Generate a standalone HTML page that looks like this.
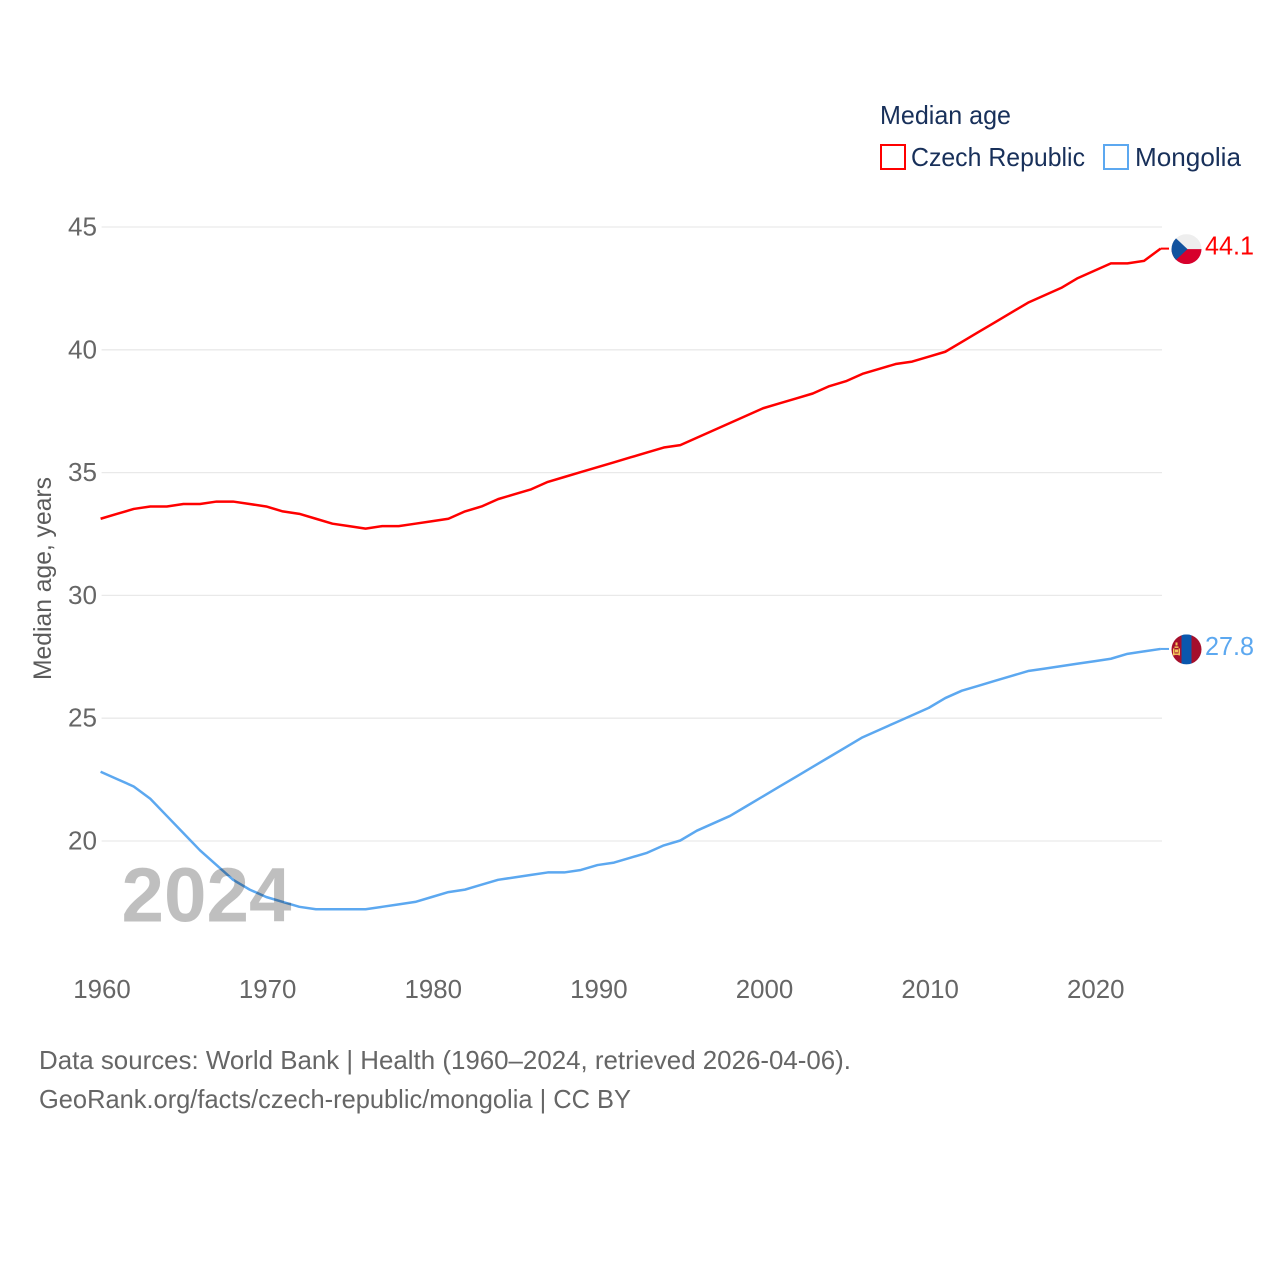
<!DOCTYPE html>
<html lang="en">
<head>
<meta charset="utf-8">
<title>Median age: Czech Republic vs Mongolia</title>
<style>
  html, body { margin: 0; padding: 0; background: #fff; }
  svg { display: block; font-family: "Liberation Sans", sans-serif; }
</style>
</head>
<body>
<svg id="chart" xmlns="http://www.w3.org/2000/svg" width="1280" height="1280" viewBox="0 0 1280 1280">
  <rect width="1280" height="1280" fill="#ffffff"/>

  <g id="grid"></g>
  <g id="yticks"></g>
  <g id="xticks"></g>

  <text transform="translate(51 680) rotate(-90)" font-size="25" fill="#5b5b5b" textLength="203" lengthAdjust="spacingAndGlyphs">Median age, years</text>

  <g id="series"></g>

  <text x="121.5" y="921.5" font-size="77" font-weight="bold" fill="#000000" fill-opacity="0.25" textLength="170" lengthAdjust="spacingAndGlyphs">2024</text>

  <g>
    <text x="880" y="124" font-size="26" fill="#18305a" textLength="131" lengthAdjust="spacingAndGlyphs">Median age</text>
    <rect x="881" y="145" width="24" height="24" fill="none" stroke="#ff0000" stroke-width="2"/>
    <text x="911" y="166" font-size="26" fill="#18305a" textLength="174" lengthAdjust="spacingAndGlyphs">Czech Republic</text>
    <rect x="1104" y="145" width="24" height="24" fill="none" stroke="#5ca8f0" stroke-width="2"/>
    <text x="1135" y="166" font-size="26" fill="#18305a" textLength="106" lengthAdjust="spacingAndGlyphs">Mongolia</text>
  </g>

  <defs>
    <clipPath id="flag-clip-cz"><circle id="clip-cz" r="15"/></clipPath>
    <clipPath id="flag-clip-mn"><circle id="clip-mn" r="15"/></clipPath>
  </defs>

  <g id="flag-cz" clip-path="url(#flag-clip-cz)">
    <rect x="-15" y="-15" width="30" height="15" fill="#eeeeee"/>
    <rect x="-15" y="0" width="30" height="15" fill="#d7002c"/>
    <polygon points="-15,-15 1,0 -15,15" fill="#11529e"/>
  </g>
  <g id="flag-mn" clip-path="url(#flag-clip-mn)">
    <rect x="-15" y="-15" width="10" height="30" fill="#a50f2c"/>
    <rect x="-5" y="-15" width="10" height="30" fill="#0a57ad"/>
    <rect x="5" y="-15" width="10" height="30" fill="#a50f2c"/>
    <g fill="#f2c65a">
      <rect x="-11" y="-7" width="2" height="3"/>
      <rect x="-12" y="-3" width="4" height="1.5"/>
      <rect x="-13.5" y="-1" width="1.5" height="7"/>
      <rect x="-8" y="-1" width="1.5" height="7"/>
      <rect x="-11.5" y="0" width="3" height="3"/>
      <rect x="-12" y="4" width="4" height="1.5"/>
    </g>
  </g>

  <text id="end-cz" font-size="26" fill="#ff0000" textLength="49" lengthAdjust="spacingAndGlyphs"></text>
  <text id="end-mn" font-size="26" fill="#5ca8f0" textLength="49" lengthAdjust="spacingAndGlyphs"></text>

  <g>
    <text x="39" y="1069" font-size="26" fill="#666666" textLength="812" lengthAdjust="spacingAndGlyphs">Data sources: World Bank | Health (1960–2024, retrieved 2026-04-06).</text>
    <text x="39" y="1108" font-size="26" fill="#666666" textLength="592" lengthAdjust="spacingAndGlyphs">GeoRank.org/facts/czech-republic/mongolia | CC BY</text>
  </g>
</svg>

<script>
const years = [1960,1961,1962,1963,1964,1965,1966,1967,1968,1969,1970,1971,1972,1973,1974,1975,1976,1977,1978,1979,1980,1981,1982,1983,1984,1985,1986,1987,1988,1989,1990,1991,1992,1993,1994,1995,1996,1997,1998,1999,2000,2001,2002,2003,2004,2005,2006,2007,2008,2009,2010,2011,2012,2013,2014,2015,2016,2017,2018,2019,2020,2021,2022,2023,2024];
const czechValues = [33.1,33.3,33.5,33.6,33.6,33.7,33.7,33.8,33.8,33.7,33.6,33.4,33.3,33.1,32.9,32.8,32.7,32.8,32.8,32.9,33.0,33.1,33.4,33.6,33.9,34.1,34.3,34.6,34.8,35.0,35.2,35.4,35.6,35.8,36.0,36.1,36.4,36.7,37.0,37.3,37.6,37.8,38.0,38.2,38.5,38.7,39.0,39.2,39.4,39.5,39.7,39.9,40.3,40.7,41.1,41.5,41.9,42.2,42.5,42.9,43.2,43.5,43.5,43.6,44.1];
const mongoliaValues = [22.8,22.5,22.2,21.7,21.0,20.3,19.6,19.0,18.4,18.0,17.7,17.5,17.3,17.2,17.2,17.2,17.2,17.3,17.4,17.5,17.7,17.9,18.0,18.2,18.4,18.5,18.6,18.7,18.7,18.8,19.0,19.1,19.3,19.5,19.8,20.0,20.4,20.7,21.0,21.4,21.8,22.2,22.6,23.0,23.4,23.8,24.2,24.5,24.8,25.1,25.4,25.8,26.1,26.3,26.5,26.7,26.9,27.0,27.1,27.2,27.3,27.4,27.6,27.7,27.8];
const yTickValues = [20,25,30,35,40,45];
const xTickValues = [1960,1970,1980,1990,2000,2010,2020];

const SVG_NS = 'http://www.w3.org/2000/svg';
const xScale = year => 100.6 + (year - 1960) * (1160.6 - 100.6) / 64;
const yScale = value => 841 - (value - 20) * (841 - 227) / 25;

const make = (tag, parent, attrs) => {
  const el = document.createElementNS(SVG_NS, tag);
  for (const key in attrs) el.setAttribute(key, attrs[key]);
  parent.appendChild(el);
  return el;
};

const gridGroup = document.getElementById('grid');
const yTickGroup = document.getElementById('yticks');
yTickValues.forEach(value => {
  const line = make('line', gridGroup, { x1: 101.6, x2: 1162, y1: yScale(value), y2: yScale(value), stroke: '#e9e9e9', 'stroke-width': 1.3 });
  
  
  const label = make('text', yTickGroup, { x: 97, y: yScale(value) + 8.5, 'text-anchor': 'end', 'font-size': 25.5, fill: '#666666', textLength: 29, lengthAdjust: 'spacingAndGlyphs' });
  
  
  label.textContent = value;
});

const xTickGroup = document.getElementById('xticks');
xTickValues.forEach(year => {
  const label = make('text', xTickGroup, { x: xScale(year) + 1.4, y: 998, 'text-anchor': 'middle', 'font-size': 25.5, fill: '#666666', textLength: 57.5, lengthAdjust: 'spacingAndGlyphs' });
  
  
  label.textContent = year;
});

const seriesGroup = document.getElementById('series');
const pathFrom = values => values.map((v, i) => (i ? 'L' : 'M') + xScale(years[i]).toFixed(2) + ' ' + (yScale(v) - 0.5).toFixed(2)).join(' ');

const czechLine = make('path', seriesGroup, { d: pathFrom(czechValues), fill: 'none', stroke: '#ff0000', 'stroke-width': 2.5, 'stroke-linejoin': 'round' });


const mongoliaLine = make('path', seriesGroup, { d: pathFrom(mongoliaValues), fill: 'none', stroke: '#5ca8f0', 'stroke-width': 2.5, 'stroke-linejoin': 'round' });



const lastX = xScale(years[years.length - 1]);
const czechEnd = czechValues[czechValues.length - 1];
const mongoliaEnd = mongoliaValues[mongoliaValues.length - 1];

const czechConnector = make('line', seriesGroup, { x1: lastX, x2: lastX + 8.4, y1: yScale(czechEnd) - 0.5, y2: yScale(czechEnd) - 0.5, stroke: '#ff0000', 'stroke-width': 2 });


const mongoliaConnector = make('line', seriesGroup, { x1: lastX, x2: lastX + 8.4, y1: yScale(mongoliaEnd) - 0.5, y2: yScale(mongoliaEnd) - 0.5, stroke: '#5ca8f0', 'stroke-width': 2 });



const flagX = lastX + 25.9;
document.getElementById('flag-cz').setAttribute('transform', 'translate(' + flagX + ' ' + yScale(czechEnd) + ')');
document.getElementById('flag-mn').setAttribute('transform', 'translate(' + flagX + ' ' + yScale(mongoliaEnd) + ')');

const endCz = document.getElementById('end-cz');
endCz.setAttribute('x', lastX + 44.4);
endCz.setAttribute('y', yScale(czechEnd) + 5.5);
endCz.textContent = czechEnd.toFixed(1);
const endMn = document.getElementById('end-mn');
endMn.setAttribute('x', lastX + 44.4);
endMn.setAttribute('y', yScale(mongoliaEnd) + 5.5);
endMn.textContent = mongoliaEnd.toFixed(1);
</script>
</body>
</html>
